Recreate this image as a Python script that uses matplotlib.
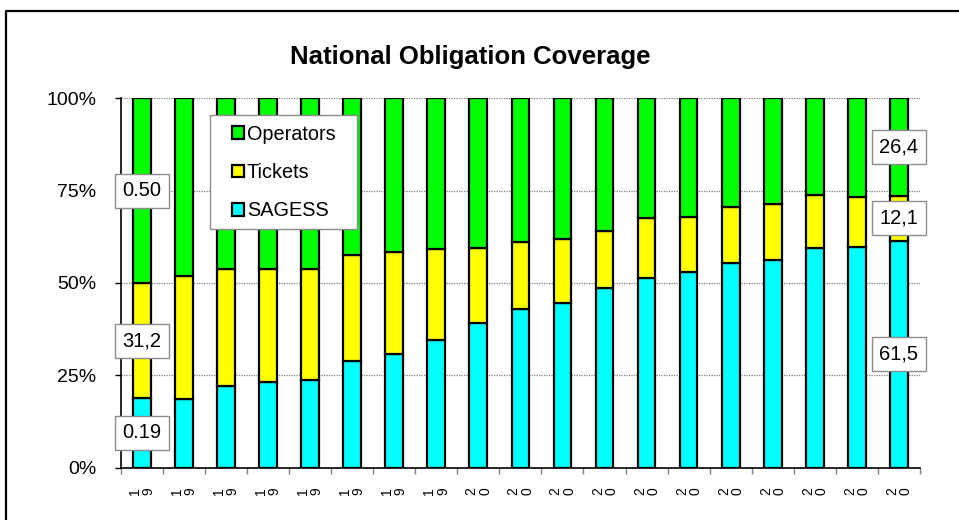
import matplotlib
matplotlib.use("Agg")
import matplotlib.pyplot as plt
from matplotlib.lines import Line2D
from matplotlib.patches import Rectangle
import numpy as np

plt.rcParams['font.family'] = ['Liberation Sans', 'DejaVu Sans']

# ---- data ----
year_prefix = ["19"] * 8 + ["20"] * 11
sagess = [18.8, 18.6, 22.0, 23.3, 23.7, 29.0, 30.7, 34.7, 39.3, 42.9,
          44.5, 48.6, 51.4, 52.9, 55.3, 56.2, 59.4, 59.8, 61.5]
tickets_top = [50.0, 51.8, 53.9, 53.9, 53.9, 57.7, 58.5, 59.1, 59.4, 61.0,
               61.9, 64.2, 67.5, 68.0, 70.7, 71.3, 73.7, 73.4, 73.6]
tickets = [round(t - s, 1) for t, s in zip(tickets_top, sagess)]
operators = [round(100 - t, 1) for t in tickets_top]
series_names = ["SAGESS", "Tickets", "Operators"]
series_colors = ["#00FFFF", "#FFFF00", "#00FF00"]
first_labels = ["0.19", "31,2", "0.50"]
last_labels = ["61,5", "12,1", "26,4"]
y_ticks = [0, 25, 50, 75, 100]
y_ticklabels = ["0%", "25%", "50%", "75%", "100%"]

W, H = 959, 520
fig = plt.figure(figsize=(W / 100, H / 100), dpi=100)
ax = fig.add_axes([120.7 / W, 1 - 467.7 / H, (920 - 120.7) / W, (467.7 - 98.3) / H])

x = np.arange(len(sagess))
bw = 0.42
bottoms = np.zeros(len(x))
containers = []
for vals, name, col in zip([sagess, tickets, operators], series_names, series_colors):
    c = ax.bar(x, vals, bw, bottom=bottoms, color=col, edgecolor="black",
               linewidth=1.6, label=name, zorder=3)
    containers.append(c)
    bottoms = bottoms + np.array(vals)

ax.set_xlim(-0.5, len(x) - 0.5)
ax.set_ylim(0, 100)

# data labels on first and last bar
def add_labels(i, labels):
    b = 0
    for vals, lab in zip([sagess, tickets, operators], labels):
        ax.text(x[i], b + vals[i] / 2, lab, ha="center", va="center", fontsize=14.5,
                zorder=5,
                bbox=dict(boxstyle="square,pad=0.37", facecolor="white",
                          edgecolor="#8c8c8c", linewidth=1))
        b += vals[i]

add_labels(0, first_labels)
add_labels(len(x) - 1, last_labels)

# axes styling
for s in ["top", "right"]:
    ax.spines[s].set_visible(False)
ax.spines["left"].set_linewidth(1.2)
ax.spines["bottom"].set_linewidth(1.2)
ax.spines["left"].set_zorder(4)
ax.spines["bottom"].set_zorder(4)

ax.set_yticks(y_ticks)
ax.set_yticklabels(y_ticklabels, fontsize=14)
ax.tick_params(axis="y", length=4.5, width=1, pad=13, color="black")

ax.set_xticks(x)
ax.set_xticklabels(["\n".join(p) for p in year_prefix], rotation=90,
                   fontsize=10, linespacing=0.95)
ax.tick_params(axis="x", which="major", length=0, pad=14)
ax.set_xticks(np.arange(-0.5, len(x)), minor=True)
ax.tick_params(axis="x", which="minor", length=4, width=1, color="#808080")

ax.yaxis.grid(True, linestyle=(0, (1, 1)), color="#808080", linewidth=0.9, zorder=0)
ax.set_axisbelow(True)

# legend (frame drawn as a rectangle for exact size)
frame = Rectangle((210 / W, 1 - 229 / H), 147 / W, 114 / H, transform=fig.transFigure,
                  facecolor="white", edgecolor="#8c8c8c", linewidth=1, zorder=5.5)
ax.add_patch(frame)
frame.set_clip_on(False)
handles = [containers[2], containers[1], containers[0]]
leg = ax.legend(handles, ["Operators", "Tickets", "SAGESS"], loc="center left",
                bbox_to_anchor=(232 / W, 1 - 172.5 / H), bbox_transform=fig.transFigure,
                fontsize=14.3, frameon=False,
                handlelength=0.62, handleheight=0.62, handletextpad=0.12,
                labelspacing=0.97, borderpad=0, borderaxespad=0)
leg.set_zorder(6)
for p in leg.get_patches():
    p.set_linewidth(1.6)

# title
fig.text(470 / W, 1 - 64 / H, "National Obligation Coverage", ha="center",
         va="baseline", fontsize=18.5, fontweight="bold")

# outer frame (left and top edges visible)
fig.add_artist(Line2D([5.5 / W, 5.5 / W, 1.0], [0, 1 - 10.5 / H, 1 - 10.5 / H],
                      transform=fig.transFigure, color="black", linewidth=1.6))

fig.savefig("out.png", dpi=100)
